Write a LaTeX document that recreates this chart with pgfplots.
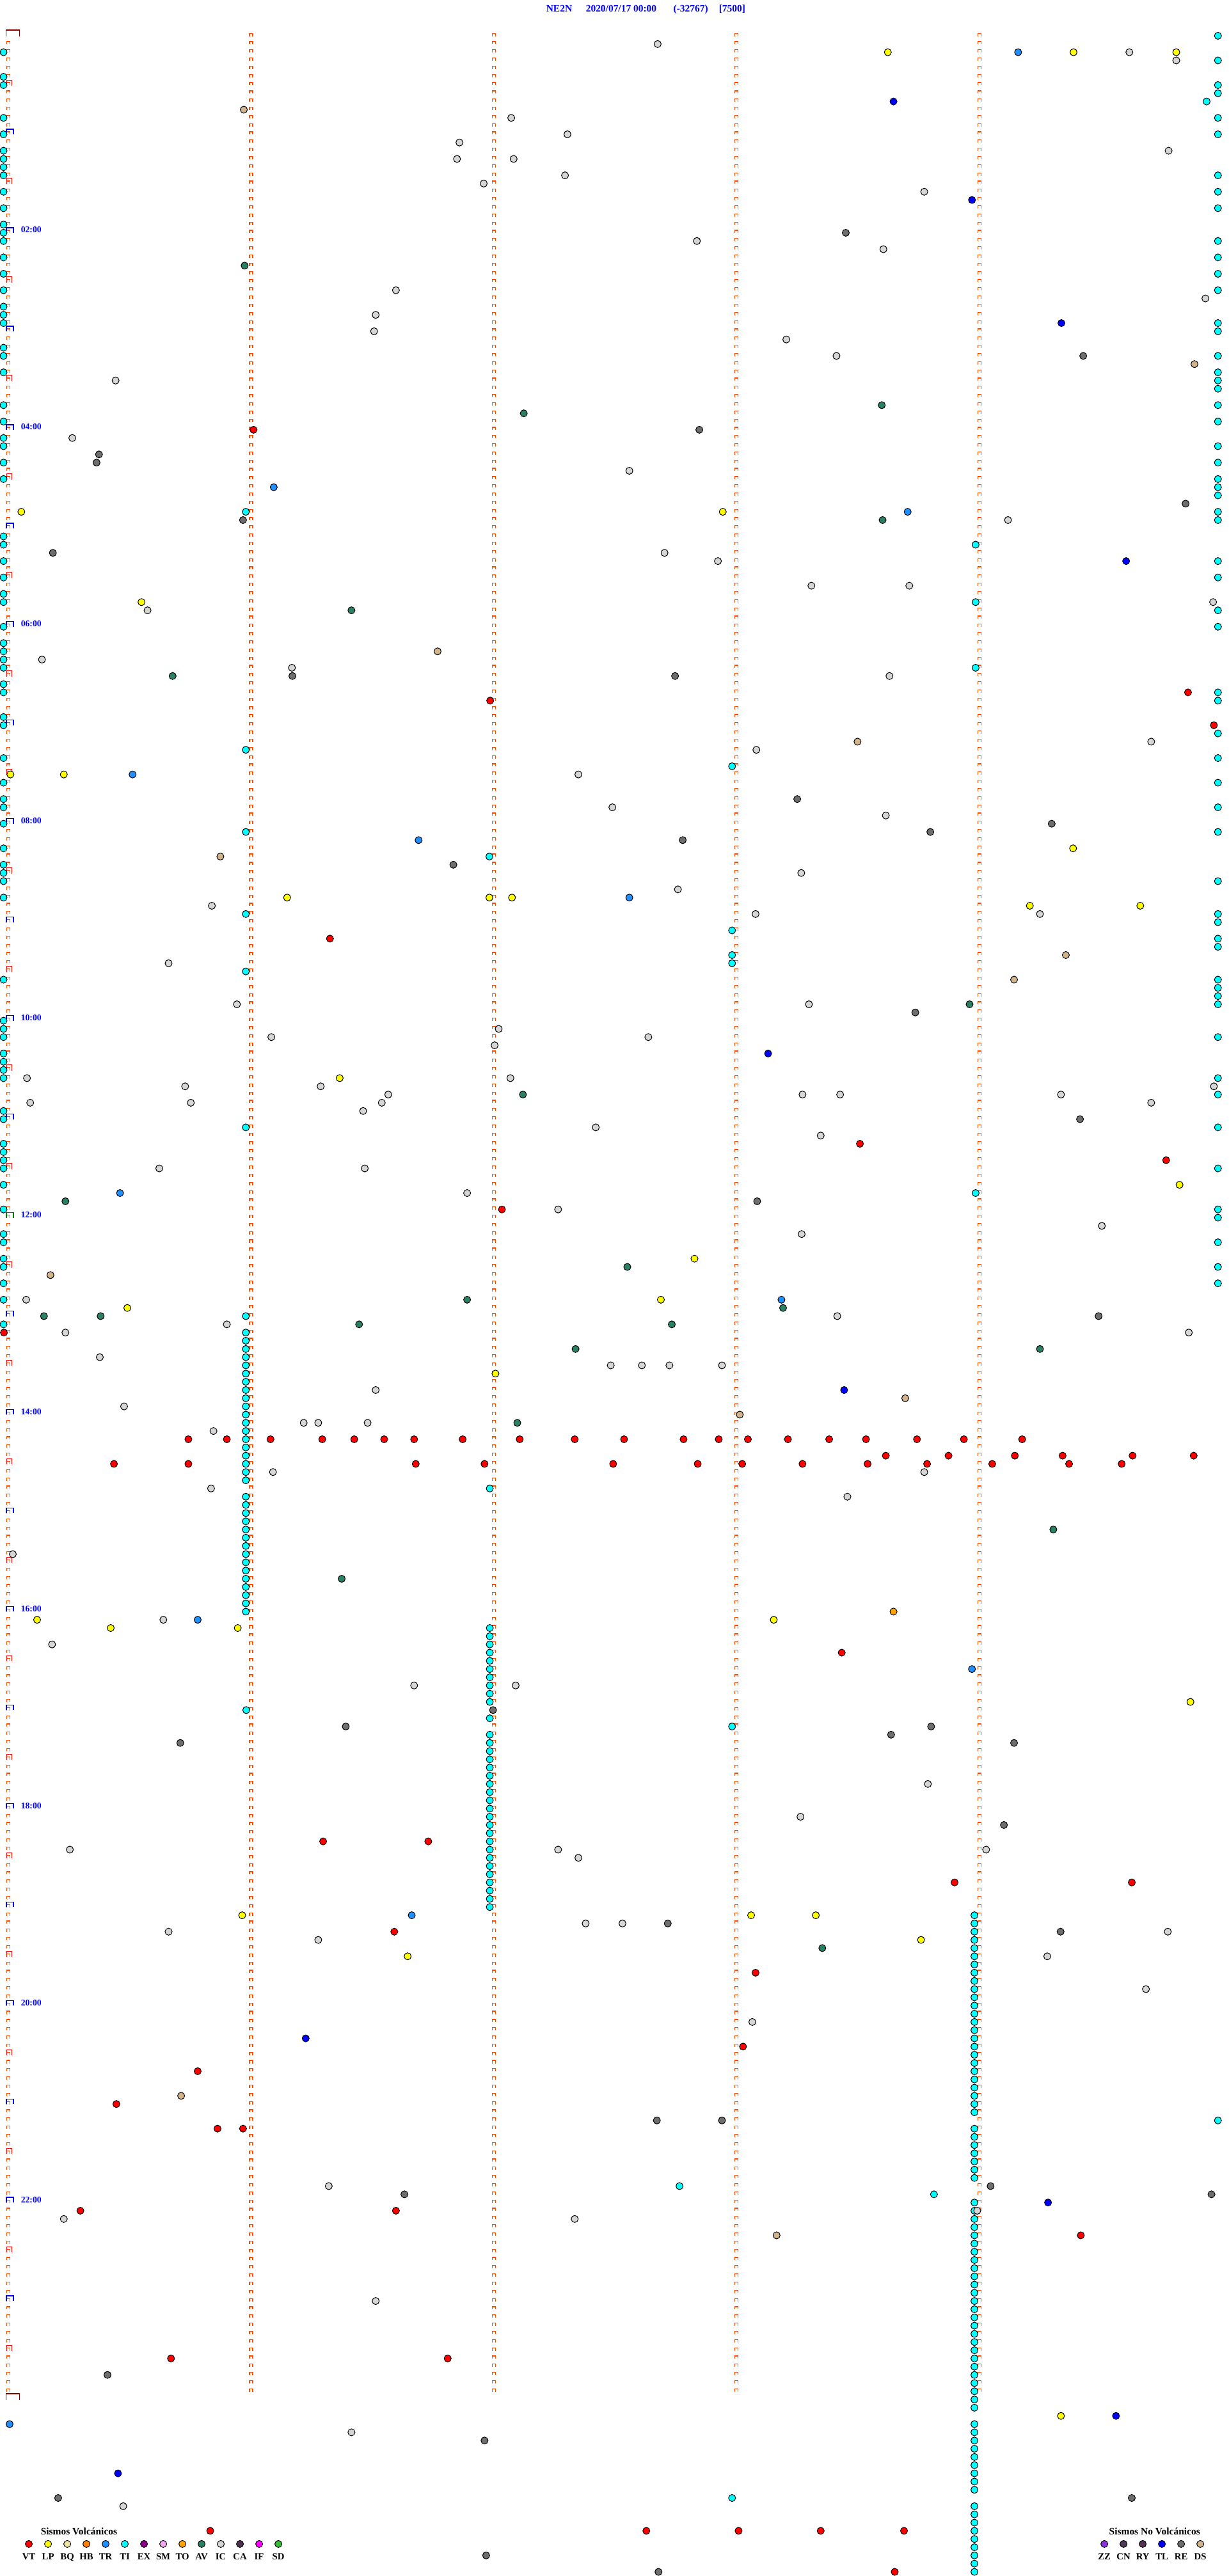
\documentclass[border=0pt]{standalone}
\usepackage{pgfplots}
\pgfplotsset{compat=1.18}
\usepackage{fontspec}
\setmainfont{Liberation Serif}

% event classes
\definecolor{cVT}{HTML}{FF0000}
\definecolor{cLP}{HTML}{FFFF00}
\definecolor{cBQ}{HTML}{F0E6A8}
\definecolor{cHB}{HTML}{FF7F00}
\definecolor{cTR}{HTML}{1E90FF}
\definecolor{cTI}{HTML}{00FFFF}
\definecolor{cEX}{HTML}{8B008B}
\definecolor{cSM}{HTML}{EEAAEE}
\definecolor{cTO}{HTML}{FFA500}
\definecolor{cAV}{HTML}{2A8062}
\definecolor{cIC}{HTML}{D6D6D6}
\definecolor{cCA}{HTML}{4F3350}
\definecolor{cIF}{HTML}{FF00FF}
\definecolor{cSD}{HTML}{33BB33}
\definecolor{cZZ}{HTML}{8A35D8}
\definecolor{cCN}{HTML}{4F3A5A}
\definecolor{cRY}{HTML}{553355}
\definecolor{cTL}{HTML}{0000FF}
\definecolor{cRE}{HTML}{6E6E6E}
\definecolor{cDS}{HTML}{D2B48C}
\definecolor{tickc}{HTML}{FF4A00}
\definecolor{dkred}{HTML}{8B0000}

\newcommand{\hfont}{\bfseries\fontsize{4.4pt}{5pt}\selectfont}
\newcommand{\tfont}{\bfseries\fontsize{3.9pt}{4.5pt}\selectfont}
\newcommand{\lfont}{\bfseries\fontsize{4.2pt}{5pt}\selectfont}

% hour / half hour brackets on the left edge
\pgfdeclareplotmark{hbr}{%
  \pgfpathmoveto{\pgfqpoint{-0.3mm}{0mm}}%
  \pgfpathlineto{\pgfqpoint{-0.3mm}{0.8mm}}%
  \pgfpathlineto{\pgfqpoint{0.8mm}{0.8mm}}%
  \pgfpathlineto{\pgfqpoint{0.8mm}{0mm}}%
  \pgfusepathqstroke}
\pgfdeclareplotmark{mbr}{%
  \pgfpathmoveto{\pgfqpoint{-0.3mm}{-0.1mm}}%
  \pgfpathlineto{\pgfqpoint{-0.3mm}{0.8mm}}%
  \pgfpathlineto{\pgfqpoint{0.57mm}{0.8mm}}%
  \pgfpathlineto{\pgfqpoint{0.57mm}{-0.1mm}}%
  \pgfusepathqstroke}
\pgfdeclareplotmark{dbr}{%
  \pgfpathmoveto{\pgfqpoint{-0.37mm}{-0.1mm}}%
  \pgfpathlineto{\pgfqpoint{-0.37mm}{0.9mm}}%
  \pgfpathlineto{\pgfqpoint{1.77mm}{0.9mm}}%
  \pgfpathlineto{\pgfqpoint{1.77mm}{-0.1mm}}%
  \pgfusepathqstroke}

\pgfplotsset{
  ev/.style={only marks, mark=*, mark size=0.55mm,
    mark options={draw=black, line width=0.1mm, fill=#1}},
  legL/.style={draw=tickc, line width=0.12mm, dash pattern=on 0.5mm off 0.783mm},
  legT/.style={draw=tickc, line width=0.62mm, dash pattern=on 0.12mm off 1.163mm},
  lbl/.style={only marks, mark=none, nodes near coords, point meta=explicit symbolic,
    every node near coord/.style={anchor=#1, inner sep=0pt}},
}

\begin{document}
\begin{tikzpicture}
\begin{axis}[
  scale only axis, width=192mm, height=402.7mm,
  xmin=-2.056, xmax=301.59, ymin=-4.365, ymax=309.509,
  y dir=reverse,
  axis line style={draw=none}, ticks=none,
  axis background/.style={fill=white},
]
% one row = 5 minutes, x = second inside the row; minute marks
\addplot[legL] coordinates {(-0.39,0.649) (-0.39,287.1)};
\addplot[legL] coordinates {(0.39,0.649) (0.39,287.1)};
\addplot[legT] coordinates {(0,0.649) (0,287.1)};
\addplot[legL] coordinates {(59.61,-0.351) (59.61,287.1)};
\addplot[legL] coordinates {(60.39,-0.351) (60.39,287.1)};
\addplot[legT] coordinates {(60,-0.351) (60,287.1)};
\addplot[legL] coordinates {(119.61,-0.351) (119.61,287.1)};
\addplot[legL] coordinates {(120.39,-0.351) (120.39,287.1)};
\addplot[legT] coordinates {(120,-0.351) (120,287.1)};
\addplot[legL] coordinates {(179.61,-0.351) (179.61,287.1)};
\addplot[legL] coordinates {(180.39,-0.351) (180.39,287.1)};
\addplot[legT] coordinates {(180,-0.351) (180,287.1)};
\addplot[legL] coordinates {(239.61,-0.351) (239.61,287.1)};
\addplot[legL] coordinates {(240.39,-0.351) (240.39,287.1)};
\addplot[legT] coordinates {(240,-0.351) (240,287.1)};

% brackets
\addplot[only marks, mark=dbr, mark options={color=dkred, line width=0.14mm}] coordinates {(0,0) (0,288)};
\addplot[only marks, mark=mbr, mark options={color=red, line width=0.09mm}] coordinates {
(0,6)(0,18)(0,30)(0,42)(0,54)(0,66)(0,78)(0,90)(0,102)(0,114)(0,126)(0,138)
(0,150)(0,162)(0,174)(0,186)(0,198)(0,210)(0,222)(0,234)(0,246)(0,258)(0,270)(0,282)};
\addplot[only marks, mark=hbr, mark options={color=blue, line width=0.14mm}] coordinates {
(0,12)(0,24)(0,36)(0,48)(0,60)(0,72)(0,84)(0,96)(0,108)(0,120)(0,132)
(0,156)(0,168)(0,180)(0,192)(0,204)(0,216)(0,228)(0,240)(0,252)(0,264)(0,276)};
\addplot[only marks, mark=hbr, mark options={color=green!50!black, line width=0.14mm}] coordinates {(0,144)};

% hour labels
\addplot[lbl=base west, every node near coord/.append style={text=blue, font=\tfont}] coordinates {
(3,24)[02:00] (3,48)[04:00] (3,72)[06:00] (3,96)[08:00] (3,120)[10:00] (3,144)[12:00]
(3,168)[14:00] (3,192)[16:00] (3,216)[18:00] (3,240)[20:00] (3,264)[22:00]};

% TI
\addplot[ev=cTI] coordinates {
(-1.2,2)(-1.2,5)(-1.2,6)(-1.2,10)(-1.2,12)(-1.2,14)(-1.2,15)(-1.2,16)(-1.2,17)(-1.2,19)
(-1.2,21)(-1.2,23)(-1.2,24)(-1.2,25)(-1.2,27)(-1.2,29)(-1.2,31)(-1.2,33)(-1.2,34)(-1.2,35)
(-1.2,38)(-1.2,39)(-1.2,41)(-1.2,45)(-1.2,47)(-1.2,49)(-1.2,50)(-1.2,52)(-1.2,54)(-1.2,61)
(-1.2,62)(-1.2,64)(-1.2,66)(-1.2,68)(-1.2,69)(-1.2,72)(-1.2,74)(-1.2,75)(-1.2,76)(-1.2,77)
(-1.2,79)(-1.2,80)(-1.2,83)(-1.2,84)(-1.2,88)(-1.2,91)(-1.2,93)(-1.2,94)(-1.2,96)(-1.2,99)
(-1.2,101)(-1.2,102)(-1.2,103)(-1.2,105)(-1.2,115)(-1.2,120)(-1.2,121)(-1.2,122)(-1.2,124)
(-1.2,125)(-1.2,126)(-1.2,127)(-1.2,131)(-1.2,132)(-1.2,135)(-1.2,136)(-1.2,137)(-1.2,138)
(-1.2,140)(-1.2,143)(-1.2,146)(-1.2,147)(-1.2,149)(-1.2,150)(-1.2,152)(-1.2,154)(-1.2,157)};
\addplot[ev=cTI] coordinates {
(299,0)(299,3)(299,6)(299,7)(296.2,8)(299,10)(299,12)(299,17)(299,19)(299,21)(299,25)
(299,27)(299,29)(299,31)(299,35)(299,36)(299,39)(299,41)(299,42)(299,43)(299,45)(299,47)
(299,50)(299,52)(299,54)(299,55)(299,56)(299,58)(299,59)(299,64)(299,66)(299,70)(299,72)
(299,80)(299,81)(299,85)(299,88)(299,91)(299,94)(299,97)(299,103)(299,107)(299,108)
(299,110)(299,111)(299,115)(299,116)(299,117)(299,118)(299,122)(299,127)(299,129)(299,133)
(299,138)(299,143)(299,144)(299,147)(299,150)(299,152)(299,254)};
\addplot[ev=cTI] coordinates {
(58.7,58)(239.1,62)(239.1,69)(239.1,77)(58.7,87)(178.9,89)(58.7,97)(118.9,100)(58.7,107)
(178.9,109)(178.9,112)(178.9,113)(58.7,114)(58.7,133)(239.1,141)(58.7,156)(119,177)
(178.9,206)(58.8,204)(165.9,262)(228.8,263)(178.9,300)};
\addplot[ev=cTI] coordinates {
(58.7,158)(58.7,159)(58.7,160)(58.7,161)(58.7,162)(58.7,163)(58.7,164)(58.7,165)(58.7,166)
(58.7,167)(58.7,168)(58.7,169)(58.7,170)(58.7,171)(58.7,172)(58.7,173)(58.7,174)(58.7,175)
(58.7,176)(58.7,178)(58.7,179)(58.7,180)(58.7,181)(58.7,182)(58.7,183)(58.7,184)(58.7,185)
(58.7,186)(58.7,187)(58.7,188)(58.7,189)(58.7,190)(58.7,191)(58.7,192)};
\addplot[ev=cTI] coordinates {
(119,194)(119,195)(119,196)(119,197)(119,198)(119,199)(119,200)(119,201)(119,202)(119,203)
(119,205)(119,207)(119,208)(119,209)(119,210)(119,211)(119,212)(119,213)(119,214)(119,215)
(119,216)(119,217)(119,218)(119,219)(119,220)(119,221)(119,222)(119,223)(119,224)(119,225)
(119,226)(119,227)(119,228)};
\addplot[ev=cTI] coordinates {
(238.8,229)(238.8,230)(238.8,231)(238.8,232)(238.8,233)(238.8,234)(238.8,235)(238.8,236)
(238.8,237)(238.8,238)(238.8,239)(238.8,240)(238.8,241)(238.8,242)(238.8,243)(238.8,244)
(238.8,245)(238.8,246)(238.8,247)(238.8,248)(238.8,249)(238.8,250)(238.8,251)(238.8,252)
(238.8,253)(238.8,255)(238.8,256)(238.8,257)(238.8,258)(238.8,259)(238.8,260)(238.8,261)
(238.8,264)(238.8,265)(238.8,266)(238.8,267)(238.8,268)(238.8,269)(238.8,270)(238.8,271)
(238.8,272)(238.8,273)(238.8,274)(238.8,275)(238.8,276)(238.8,277)(238.8,278)(238.8,279)
(238.8,280)(238.8,281)(238.8,282)(238.8,283)(238.8,284)(238.8,285)(238.8,286)(238.8,287)
(238.8,288)(238.8,289)(238.8,291)(238.8,292)(238.8,293)(238.8,294)(238.8,295)(238.8,296)
(238.8,297)(238.8,298)(238.8,299)(238.8,301)(238.8,302)(238.8,303)(238.8,304)(238.8,305)
(238.8,306)(238.8,307)(238.8,308)(238.8,309)};

% IC
\addplot[ev=cIC] coordinates {
(160.5,1)(277.1,2)(288.7,3)(124.3,10)(138.2,12)(111.5,13)(286.8,14)(110.9,15)(124.9,15)
(137.6,17)(117.5,18)(226.4,19)(170.2,25)(216.3,26)(95.8,31)(295.9,32)(90.8,34)(90.4,36)
(192.3,37)(204.7,39)(26.5,42)(15.8,49)(153.5,53)(247.1,59)(162.2,63)(175.4,64)(198.5,67)
(222.7,67)(297.8,69)(34.4,70)(8.3,76)(70.1,77)(217.8,78)(282.5,86)(184.9,87)(140.9,90)
(149.3,94)(216.9,95)(196.0,102)(165.5,104)(50.3,106)(184.7,107)(255.0,107)(39.6,113)
(56.5,118)(197.9,118)(121.2,121)(65.0,122)(158.2,122)(120.2,123)(4.6,127)(124.1,127)
(43.7,128)(77.2,128)(298.0,128)(93.9,129)(196.3,129)(205.6,129)(260.2,129)(5.4,130)
(45.1,130)(92.3,130)(282.5,130)(87.7,131)(145.2,133)(200.8,134)(37.3,138)(88.1,138)
(113.4,141)(135.9,143)(270.3,145)(196.1,146)(4.4,154)(204.9,156)(54.0,157)(14.1,158)
(291.8,158)(22.6,161)(148.9,162)(156.6,162)(163.4,162)(176.4,162)(90.8,165)(28.6,167)
(73.0,169)(76.6,169)(88.8,169)(50.7,170)(65.4,175)(226.4,175)(50.1,177)(207.4,178)
(1.1,185)(38.3,193)(10.8,196)(100.3,201)(125.4,201)(227.3,213)(195.8,217)(15.2,221)
(135.9,221)(241.7,221)(140.9,222)(142.7,230)(151.8,230)(39.6,231)(286.6,231)(76.6,232)
(256.8,234)(281.2,238)(183.9,242)(79.2,262)(239.5,265)(13.7,266)(140.0,266)(90.8,276)
(84.8,292)(28.4,301)};

% RE
\addplot[ev=cRE] coordinates {
(207.0,24)(265.7,39)(170.8,48)(22.4,51)(21.8,52)(291.0,57)(58.0,59)(11.0,63)(70.2,78)
(164.8,78)(195.0,93)(257.9,96)(227.9,97)(166.7,98)(110.0,101)(224.2,119)(264.9,132)
(185.1,142)(269.5,156)(119.8,204)(83.4,206)(228.1,206)(218.2,207)(42.5,208)(248.6,208)
(246.1,218)(163.0,230)(260.1,231)(160.3,254)(176.4,254)(242.8,262)(97.9,263)(297.4,263)
(24.5,285)(117.7,293)(12.3,300)(277.7,300)(118.1,307)(160.7,309)};

% AV
\addplot[ev=cAV] coordinates {
(58.4,28)(215.9,45)(127.4,46)(216.1,59)(84.8,70)(40.6,78)(237.6,118)(127.2,129)(14.1,142)
(153.0,150)(113.4,154)(191.5,155)(8.8,156)(22.8,156)(86.7,157)(164.0,157)(140.2,160)
(255.0,160)(125.8,169)(258.3,182)(82.4,188)(201.2,233)};

% LP
\addplot[ev=cLP] coordinates {
(217.4,2)(263.3,2)(288.7,2)(3.2,58)(176.6,58)(32.9,69)(0.5,90)(13.7,90)(263.2,99)(68.9,105)
(118.9,105)(124.5,105)(252.5,106)(279.8,106)(81.9,127)(289.5,140)(169.6,149)(161.3,154)
(29.4,155)(120.4,163)(7.1,193)(189.2,193)(25.3,194)(56.7,194)(292.2,203)(57.8,229)
(183.6,229)(199.6,229)(225.6,232)(98.7,234)(260.2,290)};

% TR
\addplot[ev=cTR] coordinates {
(249.6,2)(65.6,55)(222.3,58)(30.7,90)(101.4,98)(153.5,105)(27.6,141)(191.1,154)(46.8,193)
(238.2,199)(99.7,229)(0.3,291)};

% TL
\addplot[ev=cTL] coordinates {
(218.8,8)(238.2,20)(260.3,35)(276.3,64)(187.8,124)(206.6,165)(73.5,244)(257.0,264)
(273.8,290)(27.1,297)};

% DS
\addplot[ev=cDS] coordinates {
(58.2,9)(293.2,40)(106.1,75)(209.9,86)(52.4,100)(261.4,112)(248.6,115)(10.4,151)
(221.7,166)(180.8,168)(42.7,251)(189.9,268)};

% TO
\addplot[ev=cTO] coordinates {(218.8,192)};

% VT
\addplot[ev=cVT] coordinates {
(60.6,48)(291.6,80)(119.1,81)(298.0,84)(79.5,110)(210.5,135)(286.2,137)(122.0,143)(-1.1,158)
(44.5,171)(54.0,171)(64.8,171)(77.6,171)(85.5,171)(92.9,171)(100.3,171)(112.3,171)
(126.4,171)(140.0,171)(152.2,171)(166.9,171)(175.6,171)(182.8,171)(192.7,171)(202.9,171)
(212.0,171)(224.6,171)(236.2,171)(250.6,171)
(216.9,173)(232.4,173)(248.8,173)(260.6,173)(277.9,173)(293.0,173)
(26.1,174)(44.5,174)(100.7,174)(117.7,174)(149.5,174)(170.4,174)(181.4,174)(196.3,174)
(212.4,174)(227.1,174)(243.2,174)(262.2,174)(275.2,174)
(206.0,197)(77.8,220)(103.8,220)(233.9,225)(277.7,225)(95.4,231)(184.7,236)(181.6,245)
(46.8,248)(26.7,252)(51.7,255)(58.0,255)(17.8,265)(95.8,265)(265.1,268)(40.2,283)
(108.6,283)(49.9,304)(157.7,304)(180.5,304)(200.8,304)(221.4,304)(219.1,309)};

% header
\node[anchor=base west, inner sep=0pt, text=blue, font=\hfont] at (axis cs:132.85,-2.94) {NE2N};
\node[anchor=base west, inner sep=0pt, text=blue, font=\hfont] at (axis cs:142.65,-2.94) {2020/07/17 00:00};
\node[anchor=base west, inner sep=0pt, text=blue, font=\hfont] at (axis cs:164.3,-2.94) {(-32767)};
\node[anchor=base west, inner sep=0pt, text=blue, font=\hfont] at (axis cs:175.55,-2.94) {[7500]};

% legend keys
\addplot[ev=cVT] coordinates {(5.06,305.6)};
\addplot[ev=cLP] coordinates {(9.81,305.6)};
\addplot[ev=cBQ] coordinates {(14.55,305.6)};
\addplot[ev=cHB] coordinates {(19.29,305.6)};
\addplot[ev=cTR] coordinates {(24.04,305.6)};
\addplot[ev=cTI] coordinates {(28.78,305.6)};
\addplot[ev=cEX] coordinates {(33.53,305.6)};
\addplot[ev=cSM] coordinates {(38.27,305.6)};
\addplot[ev=cTO] coordinates {(43.02,305.6)};
\addplot[ev=cAV] coordinates {(47.76,305.6)};
\addplot[ev=cIC] coordinates {(52.51,305.6)};
\addplot[ev=cCA] coordinates {(57.25,305.6)};
\addplot[ev=cIF] coordinates {(62.00,305.6)};
\addplot[ev=cSD] coordinates {(66.74,305.6)};
\addplot[ev=cZZ] coordinates {(270.92,305.6)};
\addplot[ev=cCN] coordinates {(275.66,305.6)};
\addplot[ev=cRY] coordinates {(280.41,305.6)};
\addplot[ev=cTL] coordinates {(285.15,305.6)};
\addplot[ev=cRE] coordinates {(289.90,305.6)};
\addplot[ev=cDS] coordinates {(294.64,305.6)};
\addplot[lbl=base, every node near coord/.append style={font=\lfont}] coordinates {
(5.06,307.5)[VT] (9.81,307.5)[LP] (14.55,307.5)[BQ] (19.29,307.5)[HB] (24.04,307.5)[TR]
(28.78,307.5)[TI] (33.53,307.5)[EX] (38.27,307.5)[SM] (43.02,307.5)[TO] (47.76,307.5)[AV]
(52.51,307.5)[IC] (57.25,307.5)[CA] (62.00,307.5)[IF] (66.74,307.5)[SD]
(270.92,307.5)[ZZ] (275.66,307.5)[CN] (280.41,307.5)[RY] (285.15,307.5)[TL] (289.90,307.5)[RE]
(294.64,307.5)[DS]};
\node[anchor=base west, inner sep=0pt, font=\hfont] at (axis cs:7.91,304.5) {Sismos Volcánicos};
\node[anchor=base west, inner sep=0pt, font=\hfont] at (axis cs:272.0,304.5) {Sismos No Volcánicos};
\end{axis}
\end{tikzpicture}
\end{document}
